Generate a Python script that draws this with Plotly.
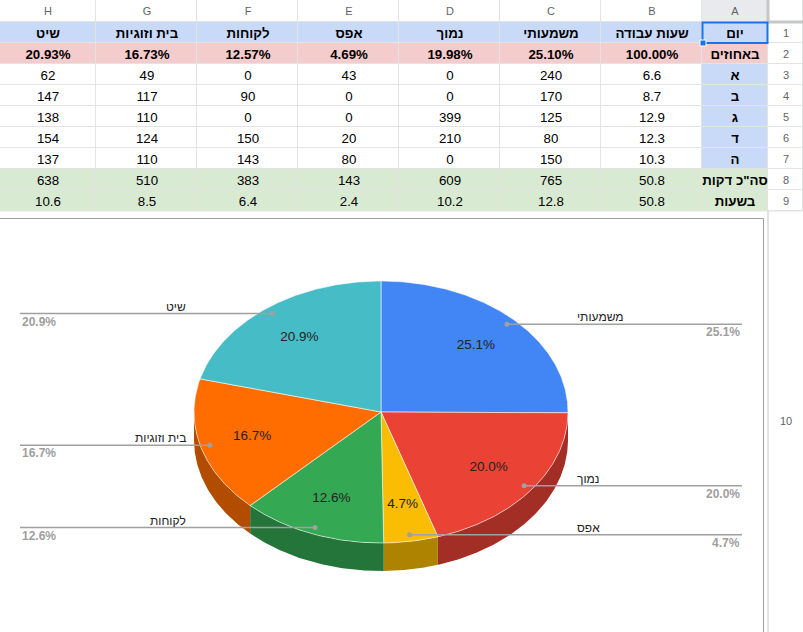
"""
Sheet table with a 3D-style pie chart of time split by category.
"""

import numpy as np
import plotly.graph_objects as go

# ---- sheet data (columns right-to-left as shown: H .. A) ----
col_letters = ["H", "G", "F", "E", "D", "C", "B", "A"]
headers = ["שיט", "בית וזוגיות", "לקוחות", "אפס", "נמוך", "משמעותי", "שעות עבודה", "יום"]
percent_row = ["20.93%", "16.73%", "12.57%", "4.69%", "19.98%", "25.10%", "100.00%", "באחוזים"]
day_labels = ["א", "ב", "ג", "ד", "ה"]
work_hours = [6.6, 8.7, 12.9, 12.3, 10.3]
significant = [240, 170, 125, 80, 150]
low = [0, 0, 399, 210, 0]
zero = [43, 0, 0, 20, 80]
clients = [0, 90, 0, 150, 143]
home = [49, 117, 110, 124, 110]
sailing = [62, 147, 138, 154, 137]
total_minutes = [638, 510, 383, 143, 609, 765, 50.8]
total_hours = [10.6, 8.5, 6.4, 2.4, 10.2, 12.8, 50.8]
row_numbers = list(range(1, 10))

# ---- pie data (clockwise from 12 o'clock) ----
pie_labels = ["משמעותי", "נמוך", "אפס", "לקוחות", "בית וזוגיות", "שיט"]
pie_values = [765, 609, 143, 383, 510, 638]
pie_colors = ["#4285F4", "#EA4335", "#FBBC04", "#34A853", "#FF6D01", "#46BDC6"]

W, H = 803, 632
FONT = "Liberation Sans, Arial, sans-serif"

# sheet geometry in pixels
col_edges = [0, 96, 197, 298, 399, 500, 601, 702, 768, 803]
row_edges = [0, 22, 43, 64, 85, 106, 127, 148, 169, 190, 211]
TABLE_BOTTOM = 211
CHART_TOP, CHART_RIGHT = 218, 763


def darker(hex_color, k=0.7):
    r, g, b = (int(hex_color[i:i + 2], 16) for i in (1, 3, 5))
    return f"rgb({int(r * k)},{int(g * k)},{int(b * k)})"


# ---- build sheet columns (row 1..9) ----
day_cols = [sailing, home, clients, zero, low, significant, work_hours]
columns = []
for i in range(7):
    columns.append(
        [f"<b>{headers[i]}</b>", f"<b>{percent_row[i]}</b>"]
        + [str(v) for v in day_cols[i]]
        + [str(total_minutes[i]), str(total_hours[i])]
    )
columns.append(
    [f"<b>{headers[7]}</b>", f"<b>{percent_row[7]}</b>"]
    + [f"<b>{d}</b>" for d in day_labels]
    + ["<b>סה\"כ דקות</b>", "<b>בשעות</b>"]
)

# colour codes: 0 white, 1 blue, 2 pink, 3 green, 4 grey
code_data = [1, 2] + [0] * 5 + [3] * 2
code_a = [1, 2] + [1] * 5 + [3] * 2
cell_scale = [[0, "#ffffff"], [0.25, "#c9daf8"], [0.5, "#f4cccc"],
              [0.75, "#d9ead3"], [1, "#e8eaed"]]

n_rows, n_cols = len(row_edges) - 1, len(col_edges) - 1
body_z = [[None] * n_cols for _ in range(n_rows)]
body_t = [[""] * n_cols for _ in range(n_rows)]
frame_z = [[None] * n_cols for _ in range(n_rows)]
frame_t = [[""] * n_cols for _ in range(n_rows)]
for c in range(8):
    codes = code_a if c == 7 else code_data
    for r in range(9):
        body_z[r + 1][c] = codes[r]
        body_t[r + 1][c] = columns[c][r]
for c, letter in enumerate(col_letters + [""]):
    frame_z[0][c] = 4 if letter == "A" else 0
    frame_t[0][c] = letter
for r, n in enumerate(row_numbers):
    frame_z[r + 1][8] = 0
    frame_t[r + 1][8] = str(n)

fig = go.Figure()

for z, t, size, color in [(body_z, body_t, 13.3, "#000000"),
                          (frame_z, frame_t, 11, "#5f6368")]:
    fig.add_trace(go.Heatmap(
        x=col_edges, y=row_edges, z=z, text=t, texttemplate="%{text}",
        textfont=dict(family=FONT, size=size, color=color),
        colorscale=cell_scale, zmin=0, zmax=4, showscale=False,
        xgap=1, ygap=1, hoverinfo="skip", xaxis="x2", yaxis="y2",
    ))

# ---- 3D pie drawn on pixel-like axes ----
cx, cy, rx, ry, depth = 381, 412, 187, 131, 28
total = sum(pie_values)
fracs = [v / total for v in pie_values]
starts = np.cumsum([0] + fracs[:-1]) * 360
ends = np.cumsum(fracs) * 360


def arc(a, b, dy=0.0):
    n = max(2, int(abs(b - a) * 2))
    t = np.radians(np.linspace(a, b, n))
    return cx + rx * np.sin(t), cy - ry * np.cos(t) + dy


# side walls (front half only)
for a, b, col in zip(starts, ends, pie_colors):
    s0, s1 = max(a, 90), min(b, 270)
    if s0 >= s1:
        continue
    xt, yt = arc(s0, s1)
    xb, yb = arc(s1, s0, depth)
    fig.add_trace(go.Scatter(
        x=np.concatenate([xt, xb, xt[:1]]), y=np.concatenate([yt, yb, yt[:1]]),
        fill="toself", fillcolor=darker(col), mode="lines",
        line=dict(width=0, color=darker(col)), hoverinfo="skip", showlegend=False,
    ))

# top faces
for a, b, col, lab in zip(starts, ends, pie_colors, pie_labels):
    xs, ys = arc(a, b)
    fig.add_trace(go.Scatter(
        x=np.concatenate([[cx], xs, [cx]]), y=np.concatenate([[cy], ys, [cy]]),
        fill="toself", fillcolor=col, mode="lines",
        line=dict(width=1, color="rgba(255,255,255,0.55)"),
        name=lab, hoverinfo="name", showlegend=False,
    ))

mids = np.radians((starts + ends) / 2)
pct_text = [f"{f * 100:.1f}%" for f in fracs]

# inner percentage labels
fig.add_trace(go.Scatter(
    x=cx + 0.715 * rx * np.sin(mids), y=cy - 0.715 * ry * np.cos(mids),
    mode="text", text=pct_text,
    textfont=dict(family=FONT, size=13.5, color="#222222"),
    hoverinfo="skip", showlegend=False,
))

# leader lines with outside labels
LINE_GREY = "#a0a0a0"
RIGHT_END, LEFT_END = 742, 20
RIGHT_TEXT, LEFT_TEXT = 575, 188
annotations = []
for m, lab, pct in zip(mids, pie_labels, pct_text):
    dx = cx + 0.95 * rx * np.sin(m)
    dy = cy - 0.95 * ry * np.cos(m)
    right = np.sin(m) > 0
    x_end = RIGHT_END if right else LEFT_END
    fig.add_trace(go.Scatter(
        x=[dx, x_end], y=[dy, dy], mode="lines",
        line=dict(color=LINE_GREY, width=1.5), hoverinfo="skip", showlegend=False,
    ))
    fig.add_trace(go.Scatter(
        x=[dx], y=[dy], mode="markers",
        marker=dict(color=LINE_GREY, size=5), hoverinfo="skip", showlegend=False,
    ))
    annotations.append(dict(
        x=RIGHT_TEXT if right else LEFT_TEXT, y=dy + 2, xref="x", yref="y",
        text=lab, showarrow=False, xanchor="left" if right else "right",
        yanchor="bottom", font=dict(family=FONT, size=12, color="#222222"),
    ))
    annotations.append(dict(
        x=x_end, y=dy - 1, xref="x", yref="y",
        text=f"<b>{pct}</b>", showarrow=False,
        xanchor="right" if right else "left", yanchor="top",
        font=dict(family=FONT, size=12, color="#9e9e9e"),
    ))

annotations.append(dict(
    x=785.5, y=421, xref="x2", yref="y2", text="10",
    showarrow=False, font=dict(family=FONT, size=11, color="#5f6368"),
))

shapes = [
    # grid colour showing through the cell gaps
    dict(type="rect", xref="x2", yref="y2", x0=0, x1=803, y0=0, y1=TABLE_BOTTOM + 0.5,
         line=dict(width=0), fillcolor="#e2e3e3", layer="below"),
    # chart frame
    dict(type="rect", xref="x2", yref="y2",
         x0=-5, x1=CHART_RIGHT + 0.5, y0=CHART_TOP + 0.5, y1=H + 5,
         line=dict(color="#9e9e9e", width=1), fillcolor="rgba(0,0,0,0)", layer="above"),
    # row-number column border below the table
    dict(type="line", xref="x2", yref="y2", x0=768, x1=768, y0=TABLE_BOTTOM, y1=H,
         line=dict(color="#c4c7c5", width=1)),
    # frozen-corner borders
    dict(type="line", xref="x2", yref="y2", x0=768, x1=768, y0=0, y1=22,
         line=dict(color="#c4c7c5", width=3)),
    dict(type="line", xref="x2", yref="y2", x0=768, x1=803, y0=22, y1=22,
         line=dict(color="#c4c7c5", width=3)),
    # selected cell A1
    dict(type="rect", xref="x2", yref="y2", x0=702.5, x1=767.5, y0=22.5, y1=43,
         line=dict(color="#1a73e8", width=2), fillcolor="rgba(0,0,0,0)"),
    dict(type="rect", xref="x2", yref="y2", x0=700, x1=706, y0=40, y1=46,
         line=dict(color="white", width=1), fillcolor="#1a73e8"),
]

fig.update_layout(
    width=W, height=H,
    margin=dict(l=0, r=0, t=0, b=0),
    paper_bgcolor="white", plot_bgcolor="rgba(0,0,0,0)",
    xaxis=dict(domain=[0, CHART_RIGHT / W], range=[0, CHART_RIGHT],
               visible=False, fixedrange=True),
    yaxis=dict(domain=[0, (H - CHART_TOP) / H], range=[H, CHART_TOP],
               visible=False, fixedrange=True),
    xaxis2=dict(domain=[0, 1], range=[0, W], visible=False, fixedrange=True,
                anchor="y2"),
    yaxis2=dict(domain=[0, 1], range=[H, 0], visible=False, fixedrange=True,
                anchor="x2"),
    annotations=annotations,
    shapes=shapes,
    showlegend=False,
)

fig.write_html("out.html", config={"displayModeBar": False},
               post_script="document.body.style.margin='0';")
